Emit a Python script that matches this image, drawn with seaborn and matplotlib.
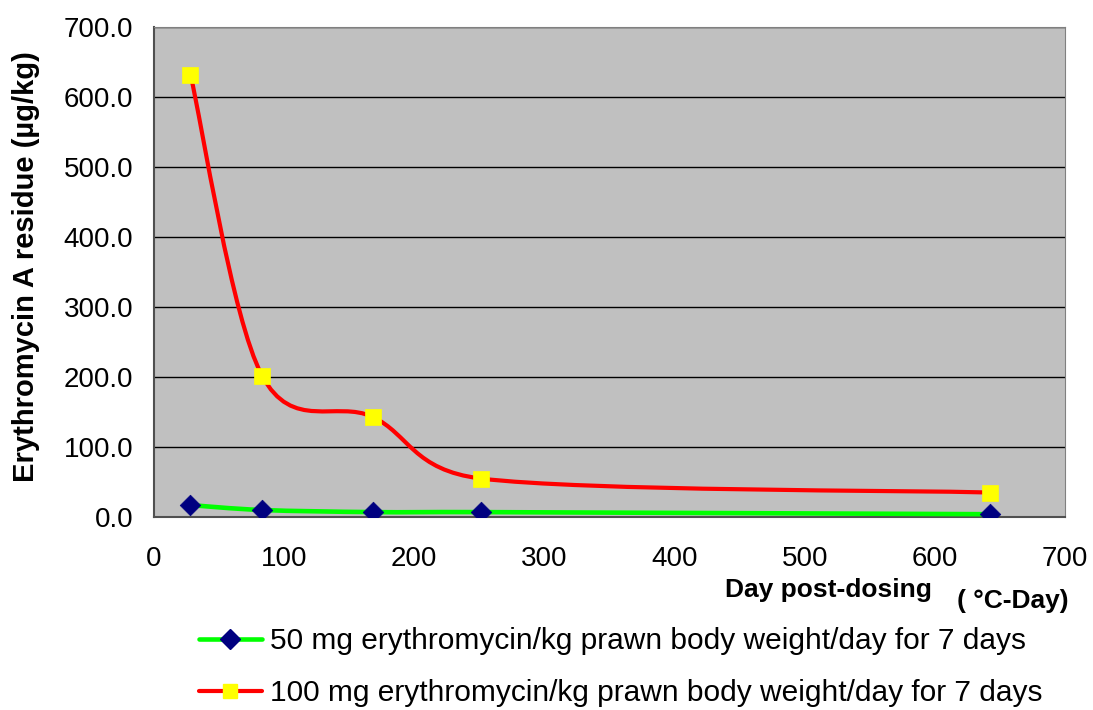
import numpy as np
import pandas as pd
import seaborn as sns
import matplotlib.pyplot as plt
from matplotlib.path import Path
from matplotlib.patches import PathPatch
from matplotlib.lines import Line2D

# values
days = [28, 83, 168, 251, 642]
dose50 = [17, 10, 7, 7, 4]
dose100 = [632, 202, 143, 55, 35]
labels = ["50 mg erythromycin/kg prawn body weight/day for 7 days",
          "100 mg erythromycin/kg prawn body weight/day for 7 days"]
x_ticks = [0, 100, 200, 300, 400, 500, 600, 700]
y_ticks = [0, 100, 200, 300, 400, 500, 600, 700]

df = pd.DataFrame({"day": days, "d50": dose50, "d100": dose100})

sns.set_style("white")
plt.rcParams['font.family'] = ['Liberation Sans', 'DejaVu Sans']
plt.rcParams['text.color'] = 'black'
plt.rcParams['xtick.color'] = 'black'
plt.rcParams['ytick.color'] = 'black'
plt.rcParams['axes.labelcolor'] = 'black'

AX_W, AX_H = 911, 490   # axes size in px, used to smooth in screen space


def smooth_path(xs, ys, cap=0.55):
    # excel-like smoothed line: catmull-rom bezier, control arms capped
    sx, sy = AX_W / 700.0, AX_H / 700.0
    pts = np.column_stack([np.asarray(xs, float) * sx, np.asarray(ys, float) * sy])
    ext = np.vstack([pts[0], pts, pts[-1]])
    verts = [tuple(pts[0])]
    codes = [Path.MOVETO]
    for i in range(1, len(ext) - 2):
        p0, p1, p2, p3 = ext[i - 1], ext[i], ext[i + 1], ext[i + 2]
        seg = np.hypot(*(p2 - p1))
        a = (p2 - p0) / 6.0
        b = (p3 - p1) / 6.0
        if np.hypot(*a) > cap * seg:
            a = a * cap * seg / np.hypot(*a)
        if np.hypot(*b) > cap * seg:
            b = b * cap * seg / np.hypot(*b)
        verts += [tuple(p1 + a), tuple(p2 - b), tuple(p2)]
        codes += [Path.CURVE4] * 3
    verts = [(vx / sx, vy / sy) for vx, vy in verts]
    return Path(verts, codes)


fig = plt.figure(figsize=(10.93, 7.10), dpi=100)
ax = fig.add_axes([154 / 1093, 1 - 517 / 710, AX_W / 1093, AX_H / 710])
ax.set_facecolor('#C0C0C0')

ax.add_patch(PathPatch(smooth_path(df.day, df.d50), fill=False,
                       edgecolor='#00FF00', lw=3.3, zorder=3, capstyle='round'))
ax.add_patch(PathPatch(smooth_path(df.day, df.d100), fill=False,
                       edgecolor='#FF0000', lw=3.0, zorder=3, capstyle='round'))

sns.scatterplot(data=df, x='day', y='d50', marker='D', s=110, color='#000080',
                edgecolor='#000080', linewidth=0.5, zorder=4, ax=ax)
sns.scatterplot(data=df, x='day', y='d100', marker='s', s=120, color='#FFFF00',
                edgecolor='#FFFF00', linewidth=0.5, zorder=4, ax=ax)

ax.set_xlim(0, 700)
ax.set_ylim(0, 700)
ax.set_xticks(x_ticks)
ax.set_xticklabels([str(t) for t in x_ticks])
ax.set_yticks(y_ticks)
ax.set_yticklabels([f"{t:.1f}" for t in y_ticks])
ax.yaxis.grid(True, color='black', lw=1.0)
ax.set_axisbelow(True)
ax.tick_params(axis='both', labelsize=20, length=7, width=1.2, color='#505050',
               direction='out', pad=8)
ax.tick_params(axis='x', pad=14)
for s in ['left', 'bottom']:
    ax.spines[s].set_color('#505050')
    ax.spines[s].set_linewidth(1.5)
for s in ['top', 'right']:
    ax.spines[s].set_color('#808080')
    ax.spines[s].set_linewidth(0.8)

ax.set_xlabel('')
ax.set_ylabel('Erythromycin A residue (µg/kg)', fontsize=21, fontweight='bold')
ax.yaxis.set_label_coords(-(154 - 40) / AX_W, 0.5 + 5 / AX_H)
fig.text(828 / 1093, 1 - 590 / 710, 'Day post-dosing', fontsize=19,
         fontweight='bold', ha='center', va='center')
fig.text(1013 / 1093, 1 - 601 / 710, '( °C-Day)', fontsize=19,
         fontweight='bold', ha='center', va='center')

handles = [
    Line2D([], [], color='#00FF00', lw=3.3, marker='D', markersize=10,
           markerfacecolor='#000080', markeredgecolor='#000080'),
    Line2D([], [], color='#FF0000', lw=3.0, marker='s', markersize=10,
           markerfacecolor='#FFFF00', markeredgecolor='#FFFF00'),
]
fig.legend(handles, labels, loc='upper left', bbox_to_anchor=(199 / 1093, 1 - 627 / 710),
           frameon=False, fontsize=21.5, handlelength=2.1, handletextpad=0.27,
           labelspacing=0.82, borderaxespad=0, borderpad=0)

plt.savefig('out.png', dpi=100)
